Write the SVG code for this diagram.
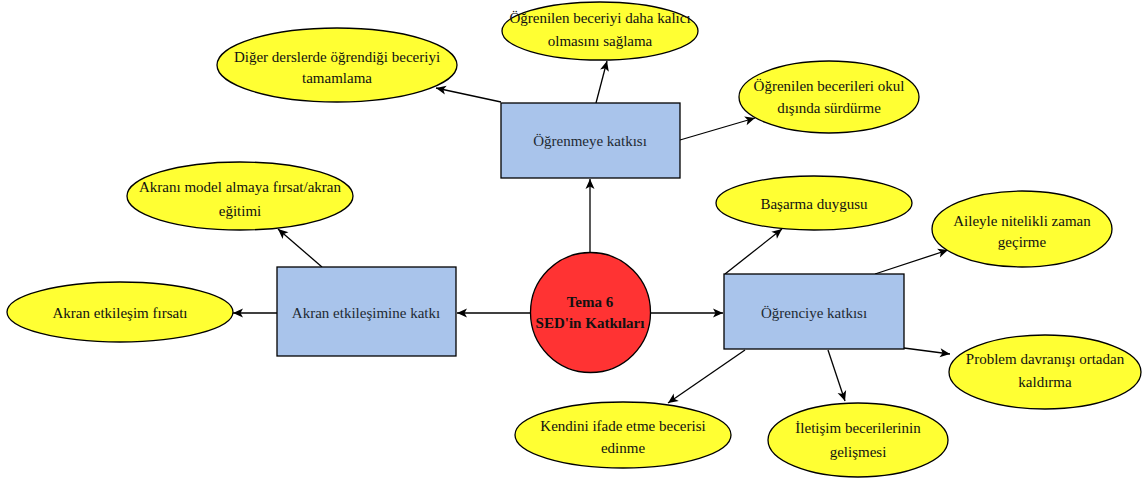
<svg xmlns="http://www.w3.org/2000/svg" width="1143" height="479" viewBox="0 0 1143 479">
<style>
.leaf{fill:#FFFF33;stroke:#000;stroke-width:1.3}
.box{fill:#A9C4EB;stroke:#000;stroke-width:1.3}
.hub{fill:#FF3333;stroke:#000;stroke-width:1.3}
text{font-family:"Liberation Serif","DejaVu Serif",serif;font-size:15px;fill:#111;text-anchor:middle}
.bt{fill:#222a33}
.ht{font-weight:bold;font-size:15px}
.edge{stroke:#000;stroke-width:1.3;fill:none;marker-end:url(#arr)}
</style>
<defs>
<marker id="arr" markerUnits="userSpaceOnUse" markerWidth="12" markerHeight="12" refX="11" refY="6" orient="auto">
<path d="M1,1.5 L11,6 L1,10.5 L3.5,6 z" fill="#000"/>
</marker>
</defs>
<rect width="1143" height="479" fill="#fff"/>
<g id="connectors">
<line class="edge" x1="590" y1="253" x2="590" y2="179"/>
<line class="edge" x1="530" y1="313" x2="457" y2="313"/>
<line class="edge" x1="651" y1="313" x2="723" y2="313"/>
<line class="edge" x1="501" y1="102" x2="436" y2="88"/>
<line class="edge" x1="596" y1="103" x2="607" y2="61"/>
<line class="edge" x1="680" y1="140" x2="755" y2="118"/>
<line class="edge" x1="322" y1="267" x2="278" y2="229"/>
<line class="edge" x1="277" y1="313" x2="233" y2="313"/>
<line class="edge" x1="725" y1="274" x2="782" y2="229"/>
<line class="edge" x1="875" y1="274" x2="948" y2="250"/>
<line class="edge" x1="904" y1="348" x2="950" y2="354"/>
<line class="edge" x1="745" y1="350" x2="668" y2="403"/>
<line class="edge" x1="828" y1="350" x2="845" y2="401"/>
</g>
<g id="hub">
<circle class="hub" cx="590.5" cy="312.5" r="60"/>
<text class="ht" x="590" y="307">Tema 6</text>
<text class="ht" x="590" y="328">SED'in Katkıları</text>
</g>
<g id="ogrenmeye">
<rect class="box" x="501" y="103" width="179" height="75"/>
<text class="bt" x="590" y="146">Öğrenmeye katkısı</text>
</g>
<g id="akran">
<rect class="box" x="277" y="267" width="179" height="89"/>
<text class="bt" x="366" y="318">Akran etkileşimine katkı</text>
</g>
<g id="ogrenciye">
<rect class="box" x="724" y="274" width="180" height="75"/>
<text class="bt" x="814" y="318">Öğrenciye katkısı</text>
</g>
<g id="diger">
<ellipse class="leaf" cx="337" cy="65" rx="120" ry="37"/>
<text x="337" y="62">Diğer derslerde öğrendiği beceriyi</text>
<text x="337" y="83">tamamlama</text>
</g>
<g id="kalici">
<ellipse class="leaf" cx="600" cy="31" rx="98" ry="29"/>
<text x="600" y="23">Öğrenilen beceriyi daha kalıcı</text>
<text x="600" y="46">olmasını sağlama</text>
</g>
<g id="okuldisi">
<ellipse class="leaf" cx="829" cy="97" rx="90" ry="36"/>
<text x="829" y="91">Öğrenilen becerileri okul</text>
<text x="829" y="113">dışında sürdürme</text>
</g>
<g id="model">
<ellipse class="leaf" cx="240" cy="196" rx="113" ry="34"/>
<text x="240" y="192">Akranı model almaya fırsat/akran</text>
<text x="240" y="216">eğitimi</text>
</g>
<g id="etkilesim">
<ellipse class="leaf" cx="120" cy="312" rx="113" ry="30"/>
<text x="120" y="318">Akran etkileşim fırsatı</text>
</g>
<g id="basarma">
<ellipse class="leaf" cx="814" cy="203" rx="98" ry="27"/>
<text x="814" y="209">Başarma duygusu</text>
</g>
<g id="aileyle">
<ellipse class="leaf" cx="1022" cy="229" rx="90" ry="38"/>
<text x="1022" y="226">Aileyle nitelikli zaman</text>
<text x="1022" y="247">geçirme</text>
</g>
<g id="problem">
<ellipse class="leaf" cx="1045" cy="372" rx="96" ry="37"/>
<text x="1045" y="364">Problem davranışı ortadan</text>
<text x="1045" y="387">kaldırma</text>
</g>
<g id="kendini">
<ellipse class="leaf" cx="623" cy="435" rx="108" ry="33"/>
<text x="623" y="431">Kendini ifade etme becerisi</text>
<text x="623" y="453">edinme</text>
</g>
<g id="iletisim">
<ellipse class="leaf" cx="858" cy="440" rx="90" ry="37"/>
<text x="858" y="433">İletişim becerilerinin</text>
<text x="858" y="457">gelişmesi</text>
</g>
</svg>
